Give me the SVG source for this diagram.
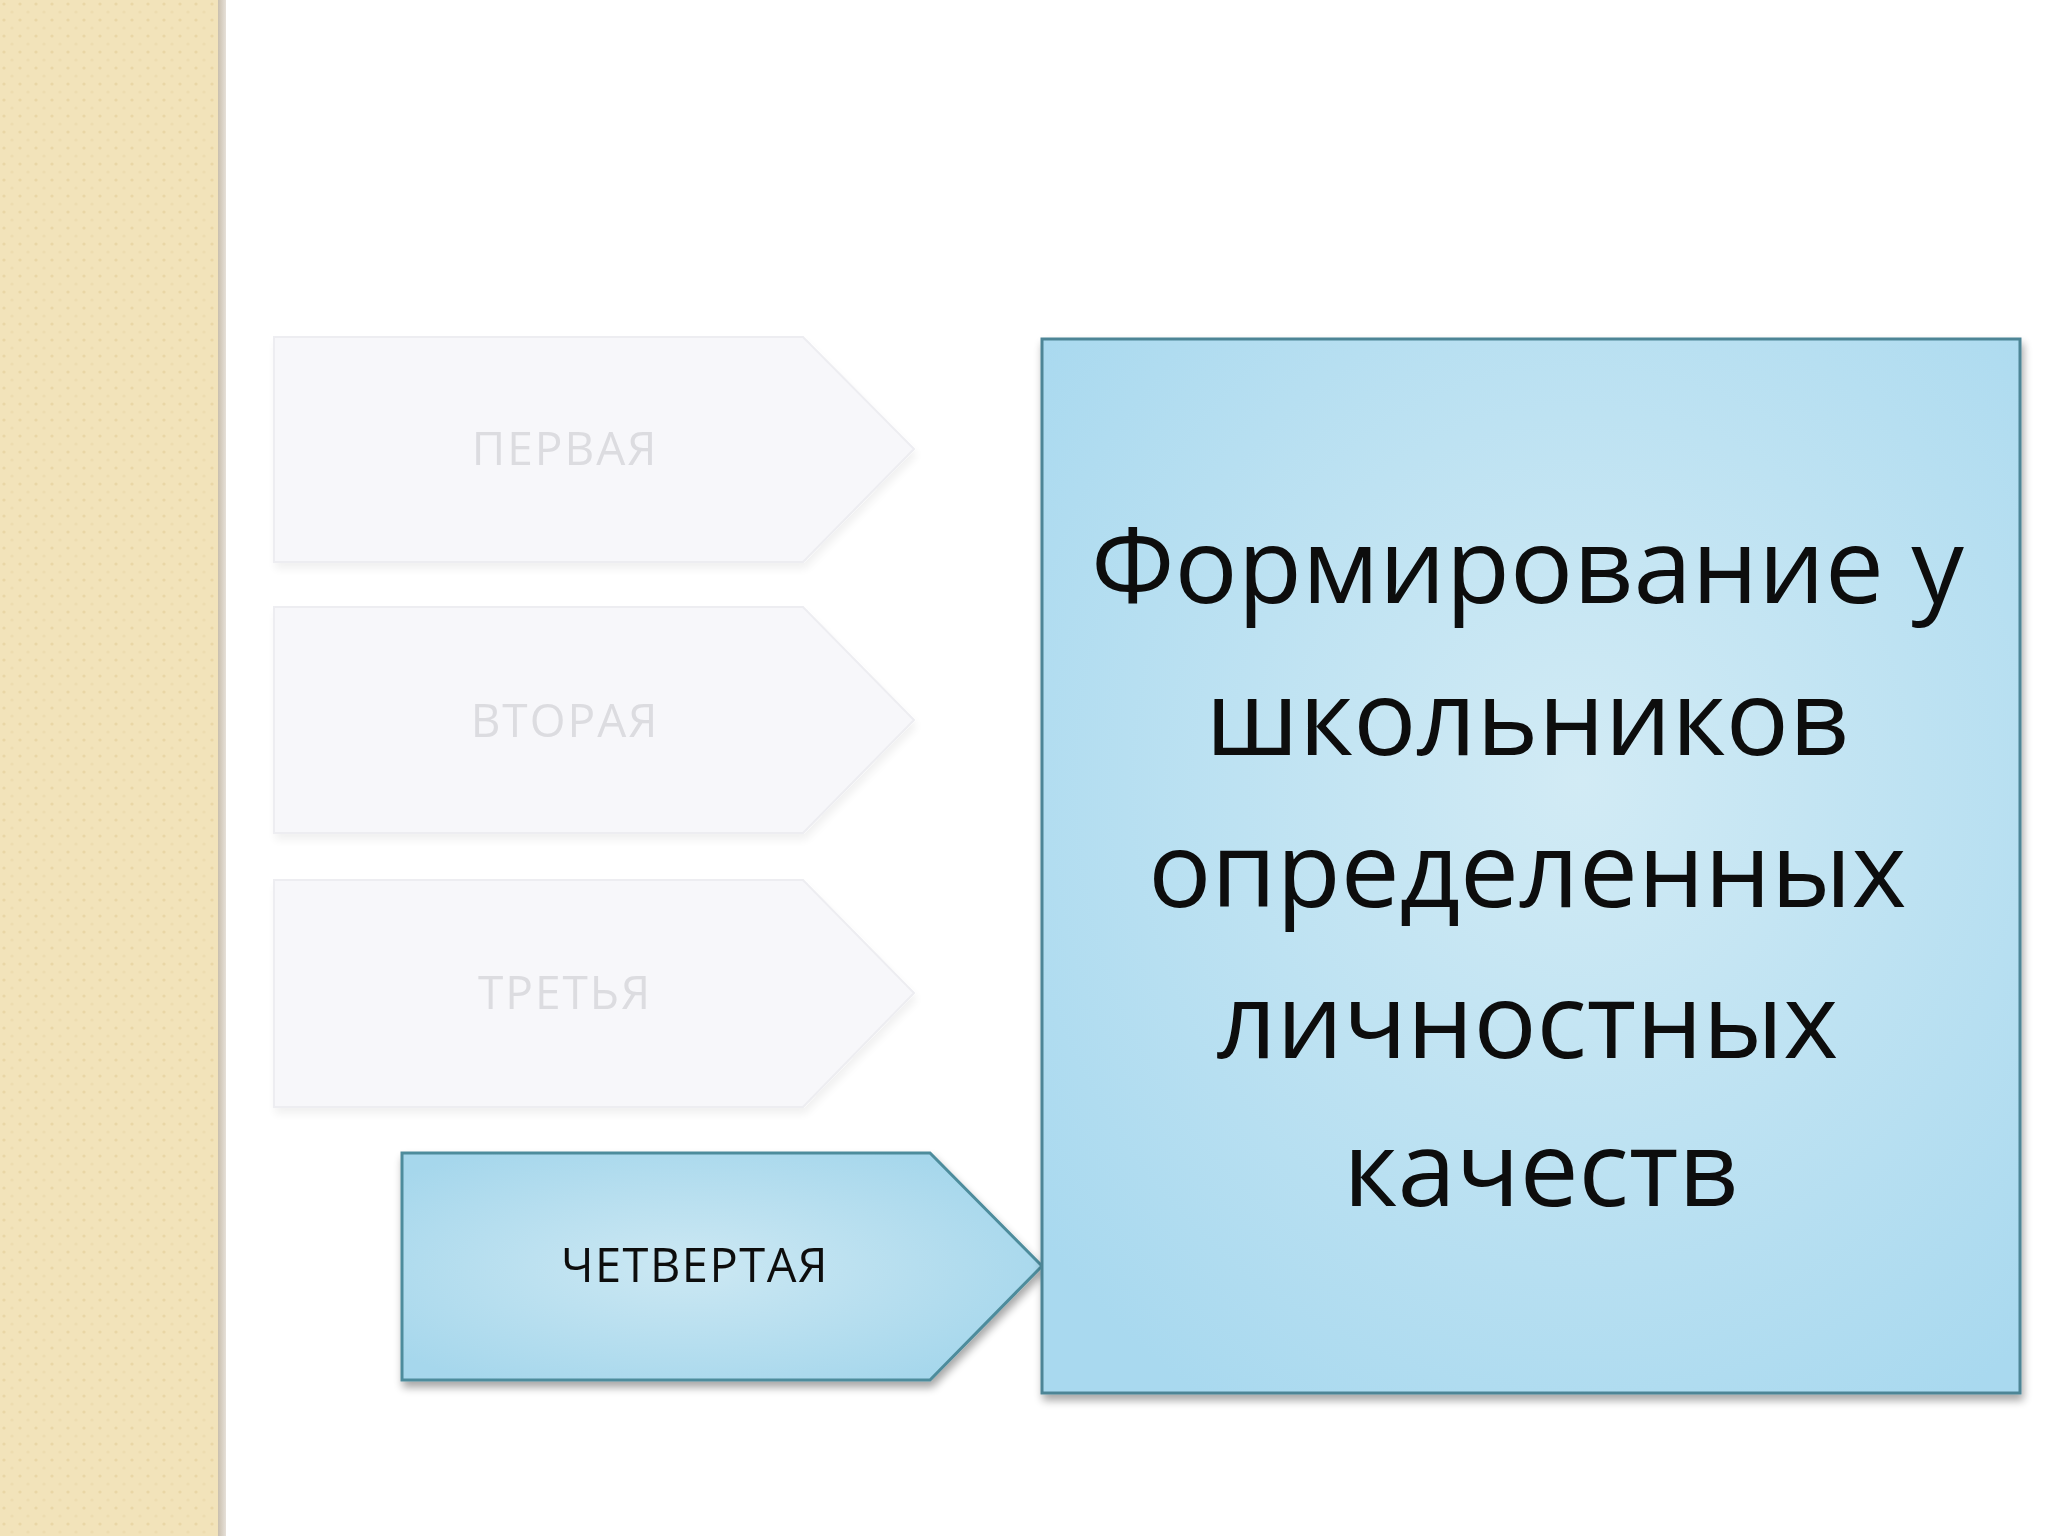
<svg xmlns="http://www.w3.org/2000/svg" width="2048" height="1536" viewBox="0 0 2048 1536">
<defs>
<pattern id="dots" x="0" y="0" width="16" height="16" patternUnits="userSpaceOnUse">
<rect width="16" height="16" fill="#F2E3BA"/>
<circle cx="4" cy="4" r="1.6" fill="#E9D6A6"/>
<circle cx="12" cy="12" r="1.6" fill="#EDDCB0"/>
</pattern>
<linearGradient id="stripShadow" x1="0" y1="0" x2="1" y2="0">
<stop offset="0" stop-color="#C9BFAE"/>
<stop offset="1" stop-color="#E6E0D8"/>
</linearGradient>
<radialGradient id="boxFill" cx="0.55" cy="0.42" r="0.7">
<stop offset="0" stop-color="#D2EBF5"/>
<stop offset="1" stop-color="#A9D9EF"/>
</radialGradient>
<radialGradient id="arrowFill" cx="0.45" cy="0.5" r="0.6">
<stop offset="0" stop-color="#CCE8F3"/>
<stop offset="1" stop-color="#A6D7EC"/>
</radialGradient>
<filter id="shadow" x="-5%" y="-5%" width="112%" height="115%">
<feGaussianBlur in="SourceAlpha" stdDeviation="4"/>
<feOffset dx="2" dy="6" result="b"/>
<feComponentTransfer><feFuncA type="linear" slope="0.35"/></feComponentTransfer>
<feMerge><feMergeNode/><feMergeNode in="SourceGraphic"/></feMerge>
</filter>
<filter id="softshadow" x="-5%" y="-5%" width="112%" height="115%">
<feGaussianBlur in="SourceAlpha" stdDeviation="4"/>
<feOffset dx="2" dy="6" result="b"/>
<feComponentTransfer><feFuncA type="linear" slope="0.06"/></feComponentTransfer>
<feMerge><feMergeNode/><feMergeNode in="SourceGraphic"/></feMerge>
</filter>
</defs>
<style>
.faded { fill: #F7F7FA; stroke: #EDEDF1; stroke-width: 2; }
.fadedText { font-family: "Open Sans", "Noto Sans", sans-serif; font-size: 46px; letter-spacing: 2px; fill: #DCDCE0; text-anchor: middle; }
.active { fill: url(#arrowFill); stroke: #4E8C9C; stroke-width: 3; }
.activeText { font-family: "Open Sans", "Noto Sans", sans-serif; font-size: 47px; letter-spacing: 1.5px; fill: #111111; text-anchor: middle; }
.box { fill: url(#boxFill); stroke: #4D8596; stroke-width: 3; }
.boxText { font-family: "Open Sans", "Noto Sans", sans-serif; font-size: 105px; fill: #0A0A0A; text-anchor: middle; }
</style>
<rect width="2048" height="1536" fill="#FFFFFF"/>
<rect x="0" y="0" width="220" height="1536" fill="url(#dots)"/>
<rect x="218" y="0" width="8" height="1536" fill="url(#stripShadow)"/>

<g id="node-first" filter="url(#softshadow)">
<polygon class="faded" points="274,337 803,337 914,449 803,562 274,562"/>
<text class="fadedText" x="565" y="465">ПЕРВАЯ</text>
</g>
<g id="node-second" filter="url(#softshadow)">
<polygon class="faded" points="274,607 803,607 914,720 803,833 274,833"/>
<text class="fadedText" x="565" y="737">ВТОРАЯ</text>
</g>
<g id="node-third" filter="url(#softshadow)">
<polygon class="faded" points="274,880 803,880 914,993 803,1107 274,1107"/>
<text class="fadedText" x="565" y="1009">ТРЕТЬЯ</text>
</g>
<g id="node-fourth" filter="url(#shadow)">
<polygon class="active" points="402,1153 930,1153 1042,1266 930,1380 402,1380"/>
<text class="activeText" x="695" y="1282">ЧЕТВЕРТАЯ</text>
</g>
<g id="node-main" filter="url(#shadow)">
<rect class="box" x="1042" y="339" width="978" height="1054"/>
<text class="boxText">
<tspan x="1541" y="603">Формирование у</tspan>
<tspan x="1541" y="755">школьников</tspan>
<tspan x="1541" y="907">определенных</tspan>
<tspan x="1541" y="1058">личностных</tspan>
<tspan x="1541" y="1206">качеств</tspan>
</text>
</g>
<g id="connectors"/>
</svg>
